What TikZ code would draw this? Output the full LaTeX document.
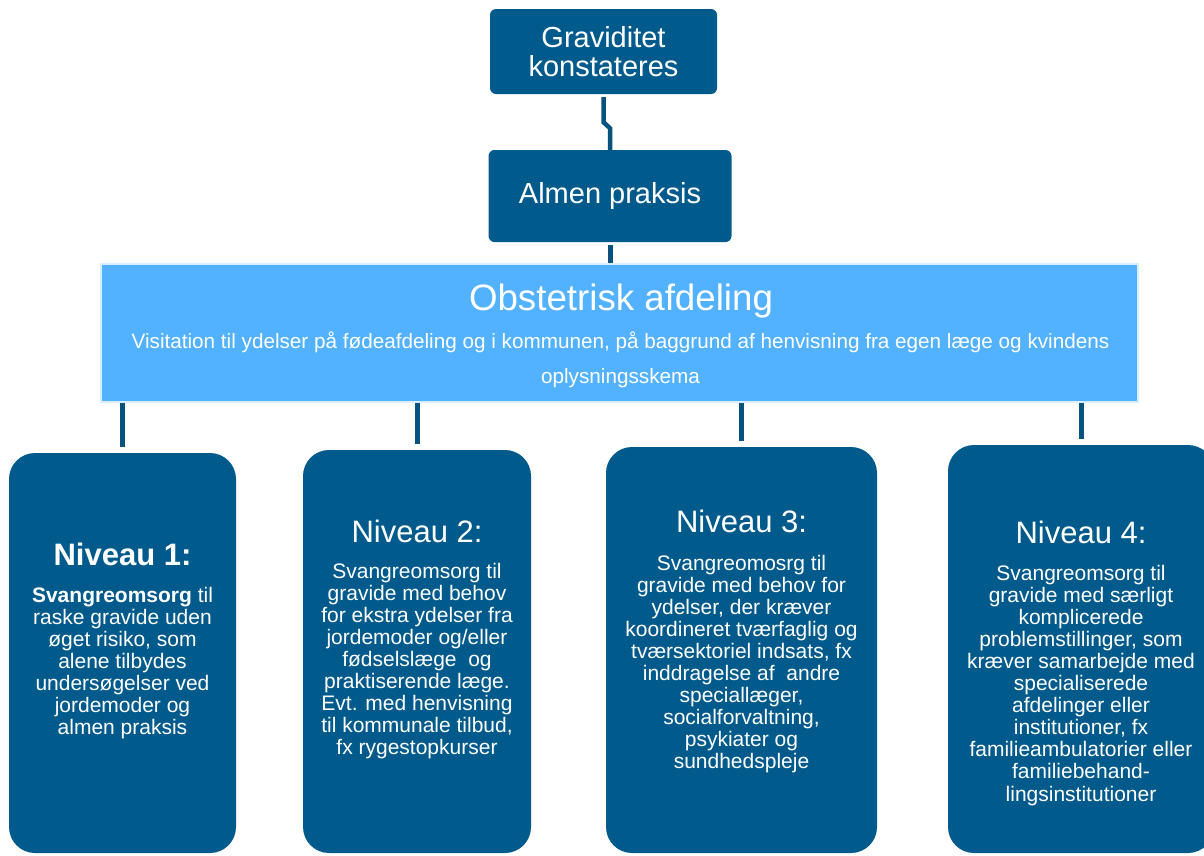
\documentclass[tikz,border=0pt]{standalone}
\usepackage{fontspec}
\setmainfont{Liberation Sans}
\definecolor{dblue}{RGB}{0,91,140}
\definecolor{lblue}{RGB}{82,178,255}
\definecolor{lborder}{RGB}{214,238,255}
\definecolor{connc}{RGB}{8,82,128}
\begin{document}
\begin{tikzpicture}[x=1pt,y=-1pt,
  topbox/.style={fill=dblue, rounded corners=6pt, inner sep=0pt, text=white, align=center, font=\fontsize{29}{29}\selectfont},
  lvl/.style={fill=dblue, rounded corners=26pt, inner sep=0pt},
  head/.style={anchor=base, text=white, inner sep=0pt, font=\fontsize{31}{31}\selectfont},
  bodyline/.style={anchor=base, text=white, inner sep=0pt, font=\fontsize{21}{22}\selectfont},
  obsttext/.style={anchor=base, text=white, inner sep=0pt},
  connline/.style={draw=connc, line width=5pt}]
\useasboundingbox (0,0) rectangle (1204,855);
\fill[white] (0,0) rectangle (1204,855);

% top boxes
\node[topbox, minimum width=227pt, minimum height=85pt] (g) at (603.5,51.5) {Graviditet\\konstateres};
\node[topbox, minimum width=243pt, minimum height=92pt] (a) at (610,196) {Almen praksis};

% obstetrisk
\node[draw=lborder, line width=2pt, fill=lblue, minimum width=1037pt, minimum height=138pt, inner sep=0pt] (o) at (619.5,333) {};
\node[obsttext, font=\fontsize{36.7}{36.7}\selectfont] (ot) at (621,310) {Obstetrisk afdeling};
\node[obsttext, font=\fontsize{20.7}{20.7}\selectfont] (os1) at (620.5,348) {Visitation til ydelser på fødeafdeling og i kommunen, på baggrund af henvisning fra egen læge og kvindens};
\node[obsttext, font=\fontsize{20.7}{20.7}\selectfont] (os2) at (620.5,383) {oplysningsskema};

% level boxes
\node[lvl, minimum width=227pt, minimum height=400pt] (b1) at (122.5,653) {};
\node[lvl, minimum width=228pt, minimum height=403pt] (b2) at (417,651.5) {};
\node[lvl, minimum width=271pt, minimum height=406pt] (b3) at (741.5,650) {};
\node[lvl, minimum width=266pt, minimum height=408pt] (b4) at (1081,649) {};

% connectors
\draw[connline, line width=4.5pt] ([yshift=-3pt]g.south) -- ++(0,25) -- ++(6.5,6) -- (a.north);
\draw[connline] ([yshift=-3pt]a.south) -- (a.south |- o.north);
\draw[connline] (o.south -| b1.north) -- ([yshift=6pt]b1.north);
\draw[connline] (o.south -| b2.north) -- ([yshift=6pt]b2.north);
\draw[connline] (o.south -| b3.north) -- ([yshift=6pt]b3.north);
\draw[connline] (o.south -| b4.north) -- ([yshift=6pt]b4.north);

% headings
\node[head, font=\fontsize{31}{31}\selectfont\bfseries] (h1) at (122.5,565) {Niveau 1:};
\node[head] (h2) at (417,542) {Niveau 2:};
\node[head] (h3) at (741.5,532) {Niveau 3:};
\node[head] (h4) at (1081,543) {Niveau 4:};

% body texts
\foreach \t [count=\i from 0] in {{\textbf{Svangreomsorg} til},{raske gravide uden},{øget risiko, som},{alene tilbydes},{undersøgelser ved},{jordemoder og},{almen praksis}}
  \node[bodyline] (ba\i) at (122.5,{602+22.1*\i}) {\t};
\foreach \t [count=\i from 0] in {{Svangreomsorg til},{gravide med behov},{for ekstra ydelser fra},{jordemoder og/eller},{fødselslæge\ \ og},{praktiserende læge.},{Evt. med henvisning},{til kommunale tilbud,},{fx rygestopkurser}}
  \node[bodyline] (bb\i) at (417,{578+22.1*\i}) {\t};
\foreach \t [count=\i from 0] in {{Svangreomosrg til},{gravide med behov for},{ydelser, der kræver},{koordineret tværfaglig og},{tværsektoriel indsats, fx},{inddragelse af\ \ andre},{speciallæger,},{socialforvaltning,},{psykiater og},{sundhedspleje}}
  \node[bodyline] (bc\i) at (741.5,{570+22.1*\i}) {\t};
\foreach \t [count=\i from 0] in {{Svangreomsorg til},{gravide med særligt},{komplicerede},{problemstillinger, som},{kræver samarbejde med},{specialiserede},{afdelinger eller},{institutioner, fx},{familieambulatorier eller},{familiebehand-},{lingsinstitutioner}}
  \node[bodyline] (bd\i) at (1081,{580+22.1*\i}) {\t};
\end{tikzpicture}
\end{document}
